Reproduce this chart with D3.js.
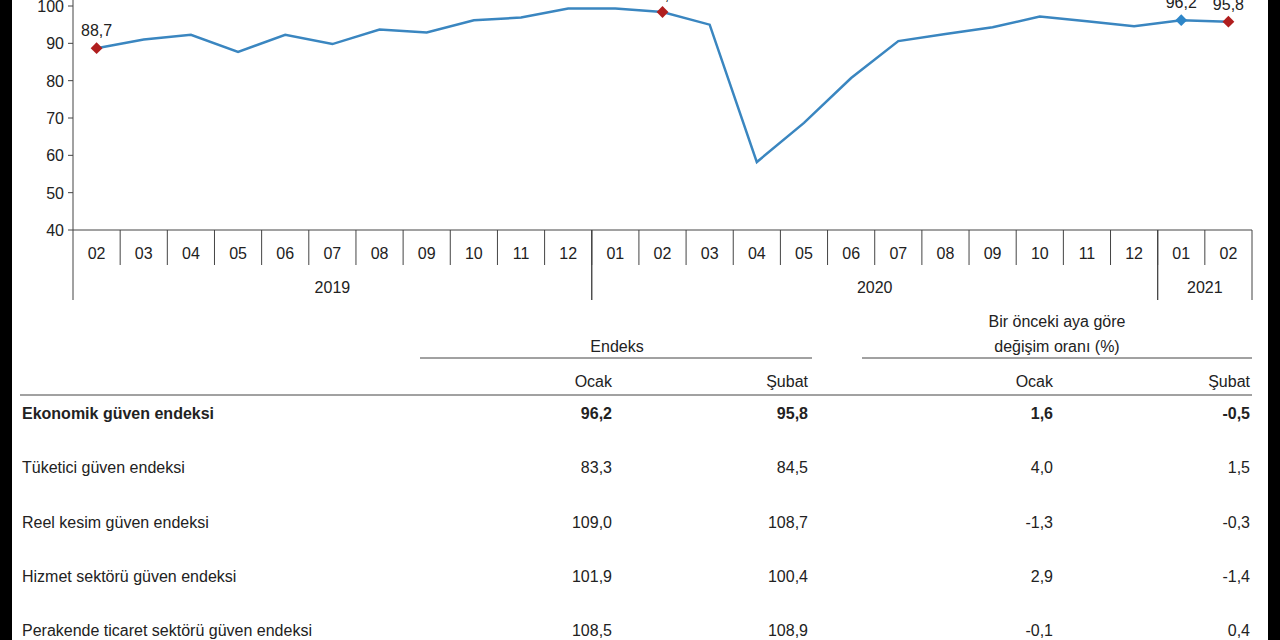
<!DOCTYPE html><html><head><meta charset="utf-8"><script src="https://cdn.jsdelivr.net/npm/d3@7"></script>
<style>body{margin:0;background:#fff}text{font-family:"Liberation Sans",Arial,sans-serif;fill:#222}</style></head><body><svg id="c" width="1280" height="640"></svg><script>
const months=["02","03","04","05","06","07","08","09","10","11","12","01","02","03","04","05","06","07","08","09","10","11","12","01","02"];
const values=[88.7,91.0,92.3,87.7,92.3,89.8,93.7,92.9,96.2,96.9,99.3,99.3,98.4,95.0,58.2,68.7,80.7,90.6,92.5,94.3,97.2,95.9,94.6,96.2,95.8];
const years=[{y:"2019",s:0,e:11},{y:"2020",s:11,e:23},{y:"2021",s:23,e:25}];
const labeled={0:"88,7",12:"98,4",23:"96,2",24:"95,8"};
const yTicks=[40,50,60,70,80,90,100];
const rowNames=["Ekonomik güven endeksi","Tüketici güven endeksi","Reel kesim güven endeksi","Hizmet sektörü güven endeksi","Perakende ticaret sektörü güven endeksi"];
const ocak=["96,2","83,3","109,0","101,9","108,5"];
const subat=["95,8","84,5","108,7","100,4","108,9"];
const chOcak=["1,6","4,0","-1,3","2,9","-0,1"];
const chSubat=["-0,5","1,5","-0,3","-1,4","0,4"];
const svg=d3.select("#c");
svg.append("rect").attr("x",0).attr("y",0).attr("width",12).attr("height",640).attr("fill","#000");
svg.append("rect").attr("x",1268).attr("y",0).attr("width",12).attr("height",640).attr("fill","#000");
const x=d3.scaleBand().domain(d3.range(25)).range([73,1252]);
const y=d3.scaleLinear().domain([40,100]).range([230,6]);
const g=svg.append("g");
g.append("line").attr("x1",73).attr("x2",73).attr("y1",0).attr("y2",230).attr("stroke","#444");
yTicks.forEach(t=>{g.append("line").attr("x1",68).attr("x2",73).attr("y1",y(t)).attr("y2",y(t)).attr("stroke","#444");
 g.append("text").attr("x",64).attr("y",y(t)+6).attr("text-anchor","end").attr("font-size",16).text(t);});
g.append("line").attr("x1",73).attr("x2",1252).attr("y1",230).attr("y2",230).attr("stroke","#444");
months.forEach((m,i)=>{g.append("text").attr("x",x(i)+x.bandwidth()/2).attr("y",259).attr("text-anchor","middle").attr("font-size",16).text(m);
 if(i>0)g.append("line").attr("x1",x(i)).attr("x2",x(i)).attr("y1",230).attr("y2",265).attr("stroke","#444");});
years.forEach(o=>{const a=x(o.s),b=o.e<25?x(o.e):1252;
 g.append("text").attr("x",(a+b)/2).attr("y",293).attr("text-anchor","middle").attr("font-size",16).text(o.y);
 [a,b].forEach(v=>g.append("line").attr("x1",v).attr("x2",v).attr("y1",230).attr("y2",300).attr("stroke","#444"));});
const cx=i=>x(i)+x.bandwidth()/2;
g.append("path").attr("d",d3.line().x((d,i)=>cx(i)).y(d=>y(d))(values)).attr("fill","none").attr("stroke","#3a86c0").attr("stroke-width",2.5);
Object.keys(labeled).forEach(k=>{const i=+k;
 g.append("path").attr("d",d3.symbol(d3.symbolSquare,70)()).attr("transform",`translate(${cx(i)},${y(values[i])}) rotate(45)`).attr("fill",i==23?"#2e86c8":"#b01e1e");
 g.append("text").attr("x",cx(i)).attr("y",y(values[i])-12).attr("text-anchor","middle").attr("font-size",16).text(labeled[k]);});
const t=svg.append("g");
t.append("text").attr("x",617).attr("y",352).attr("text-anchor","middle").attr("font-size",16).text("Endeks");
t.append("text").attr("x",1057).attr("y",327).attr("text-anchor","middle").attr("font-size",16).text("Bir önceki aya göre");
t.append("text").attr("x",1057).attr("y",352).attr("text-anchor","middle").attr("font-size",16).text("değişim oranı (%)");
[[420,812],[862,1252]].forEach(p=>t.append("line").attr("x1",p[0]).attr("x2",p[1]).attr("y1",358).attr("y2",358).attr("stroke","#444"));
const cols=[612,808,1053,1250];
["Ocak","Şubat","Ocak","Şubat"].forEach((s,i)=>t.append("text").attr("x",cols[i]).attr("y",387).attr("text-anchor","end").attr("font-size",16).text(s));
t.append("line").attr("x1",20).attr("x2",1252).attr("y1",395).attr("y2",395).attr("stroke","#444");
rowNames.forEach((n,r)=>{const yy=419+r*54.3,fw=r==0?"bold":"normal";
 t.append("text").attr("x",22).attr("y",yy).attr("font-size",16).attr("font-weight",fw).text(n);
 [ocak,subat,chOcak,chSubat].forEach((arr,c)=>t.append("text").attr("x",cols[c]).attr("y",yy).attr("text-anchor","end").attr("font-size",16).attr("font-weight",fw).text(arr[r]));});
</script></body></html>
